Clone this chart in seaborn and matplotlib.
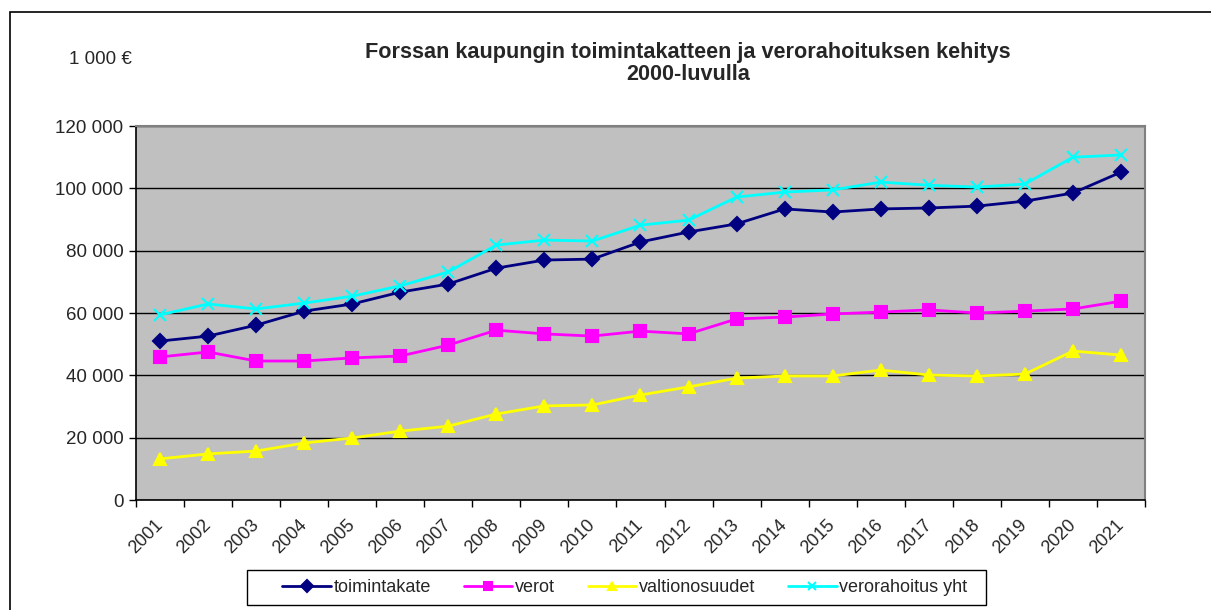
import pandas as pd
import matplotlib.pyplot as plt
import seaborn as sns
from matplotlib.patches import Rectangle

# -------------------------------
# Data (1 000 €)
# -------------------------------
years = [str(y) for y in range(2001, 2022)]
toimintakate = [51000, 52600, 56100, 60600, 62900, 66700, 69300, 74400, 77000, 77300, 82800,
                86000, 88600, 93400, 92400, 93400, 93700, 94300, 95900, 98500, 105200]
verot = [45900, 47500, 44600, 44600, 45600, 46200, 49700, 54500, 53300, 52600, 54200,
         53300, 58100, 58700, 59700, 60300, 61000, 60000, 60600, 61300, 63800]
valtionosuudet = [13200, 14800, 15700, 18300, 19900, 22100, 23700, 27600, 30200, 30500, 33700,
                  36300, 39100, 39800, 39800, 41700, 40100, 39800, 40400, 47800, 46500]
verorahoitus = [59400, 62900, 61300, 63200, 65400, 68700, 73200, 81800, 83400, 83100, 88200,
                89800, 97200, 98800, 99500, 102000, 101000, 100400, 101400, 110000, 110700]

series = ['toimintakate', 'verot', 'valtionosuudet', 'verorahoitus yht']
df = pd.DataFrame({'vuosi': years, 'toimintakate': toimintakate, 'verot': verot,
                   'valtionosuudet': valtionosuudet, 'verorahoitus yht': verorahoitus})
df['x'] = range(len(years))
long = df.melt(id_vars=['vuosi', 'x'], value_vars=series, var_name='sarja', value_name='arvo')

colors = {'toimintakate': '#000080', 'verot': '#FF00FF',
          'valtionosuudet': '#FFFF00', 'verorahoitus yht': '#00FFFF'}
markers = {'toimintakate': 'D', 'verot': 's', 'valtionosuudet': '^', 'verorahoitus yht': 'x'}
msizes = {'toimintakate': 7, 'verot': 9, 'valtionosuudet': 9, 'verorahoitus yht': 8}

sns.set_style('white')
plt.rcParams['font.family'] = ['Liberation Sans', 'DejaVu Sans']

fig = plt.figure(figsize=(12.11, 6.10), dpi=100)
ax = fig.add_axes([0.1123, 0.1803, 0.8332, 0.6131])
ax.set_facecolor('#C0C0C0')

for s in series:
    sub = long[long['sarja'] == s]
    sns.lineplot(data=sub, x='x', y='arvo', ax=ax, color=colors[s], marker=markers[s],
                 markersize=msizes[s], markeredgecolor=colors[s], markeredgewidth=1.5,
                 linewidth=2, label=s, legend=False)

# -------------------------------
# Axes / grid
# -------------------------------
ax.set_xlim(-0.5, len(years) - 0.5)
ax.set_ylim(0, 120000)
ax.set_yticks(range(0, 120001, 20000))
ax.set_yticklabels([f"{v:,}".replace(',', ' ') for v in range(0, 120001, 20000)], fontsize=13.5)
ax.yaxis.grid(True, color='black', linewidth=1)
ax.set_axisbelow(True)
ax.set_xticks([i - 0.5 for i in range(len(years) + 1)])
ax.set_xticklabels([])
ax.set_xticks(range(len(years)), minor=True)
ax.set_xticklabels(years, minor=True, rotation=45, ha='right', va='center',
                   rotation_mode='anchor', fontsize=13)
ax.tick_params(axis='x', which='major', length=5, width=1, color='black', direction='out', bottom=True)
ax.tick_params(axis='x', which='minor', length=0, pad=16)
ax.tick_params(axis='y', length=5, width=1, color='black', direction='out', left=True, pad=4)
ax.set_xlabel('')
ax.set_ylabel('')
for side in ['left', 'bottom']:
    ax.spines[side].set_color('black')
    ax.spines[side].set_linewidth(1.2)
for side in ['top', 'right']:
    ax.spines[side].set_visible(True)
    ax.spines[side].set_color('#808080')
    ax.spines[side].set_linewidth(1.5)

# -------------------------------
# Legend (frame drawn separately so the inner padding can be uneven)
# -------------------------------
handles, labels = ax.get_legend_handles_labels()
leg = fig.legend(handles, labels, loc='center', bbox_to_anchor=(0.5161, 0.0369), ncol=4,
                 frameon=False, fontsize=13, handlelength=2.7,
                 columnspacing=1.8, borderpad=0.3, handletextpad=0.15, borderaxespad=0)
for h in leg.legend_handles:
    h.set_markersize(6)
fig.patches.append(Rectangle((247 / 1211, 1 - 605 / 610), 739 / 1211, 35 / 610,
                             transform=fig.transFigure, fill=False, edgecolor='black', linewidth=1))

# titles
fig.text(0.568, 0.896, 'Forssan kaupungin toimintakatteen ja verorahoituksen kehitys\n2000-luvulla',
         ha='center', va='center', fontsize=15.6, fontweight='bold', linespacing=1.1)
fig.text(0.083, 0.902, '1 000 €', ha='center', va='center', fontsize=13.5)

# outer border
fig.patches.append(Rectangle((10 / 1211, -0.1), 1.2, 1.1 - 12 / 610, transform=fig.transFigure,
                             fill=False, edgecolor='black', linewidth=1.2))

plt.savefig('out.png', dpi=100)
